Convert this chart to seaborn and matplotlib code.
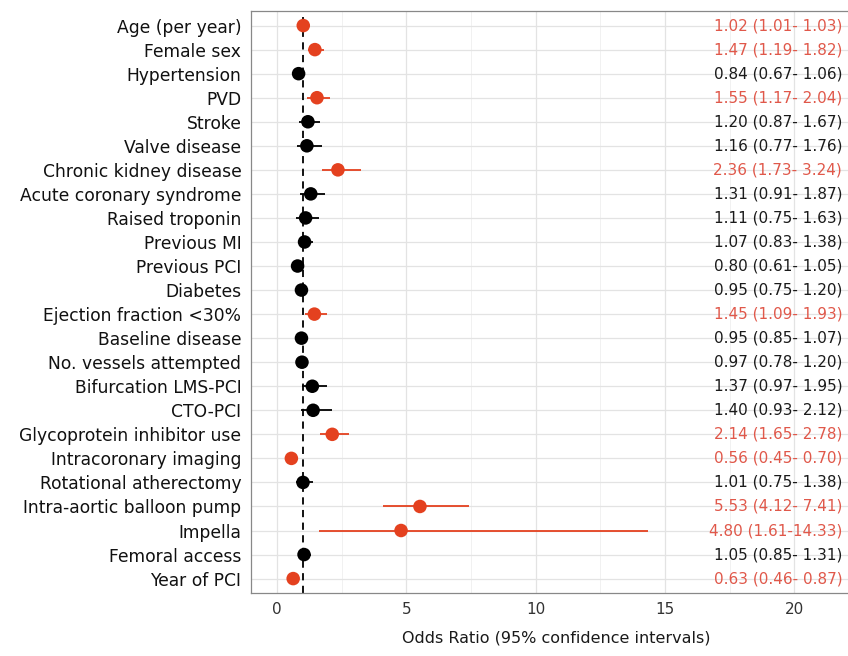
import matplotlib
matplotlib.use("Agg")
import matplotlib.pyplot as plt
import numpy as np
import pandas as pd
import seaborn as sns

# values
variables = [
    "Age (per year)", "Female sex", "Hypertension", "PVD", "Stroke",
    "Valve disease", "Chronic kidney disease", "Acute coronary syndrome",
    "Raised troponin", "Previous MI", "Previous PCI", "Diabetes",
    "Ejection fraction <30%", "Baseline disease", "No. vessels attempted",
    "Bifurcation LMS-PCI", "CTO-PCI", "Glycoprotein inhibitor use",
    "Intracoronary imaging", "Rotational atherectomy",
    "Intra-aortic balloon pump", "Impella", "Femoral access", "Year of PCI",
]
odds_ratio = [1.02, 1.47, 0.84, 1.55, 1.20, 1.16, 2.36, 1.31, 1.11, 1.07,
              0.80, 0.95, 1.45, 0.95, 0.97, 1.37, 1.40, 2.14, 0.56, 1.01,
              5.53, 4.80, 1.05, 0.63]
ci_low = [1.01, 1.19, 0.67, 1.17, 0.87, 0.77, 1.73, 0.91, 0.75, 0.83,
          0.61, 0.75, 1.09, 0.85, 0.78, 0.97, 0.93, 1.65, 0.45, 0.75,
          4.12, 1.61, 0.85, 0.46]
ci_high = [1.03, 1.82, 1.06, 2.04, 1.67, 1.76, 3.24, 1.87, 1.63, 1.38,
           1.05, 1.20, 1.93, 1.07, 1.20, 1.95, 2.12, 2.78, 0.70, 1.38,
           7.41, 14.33, 1.31, 0.87]
x_ticks = [0, 5, 10, 15, 20]

df = pd.DataFrame({"var": variables, "or": odds_ratio,
                   "lo": ci_low, "hi": ci_high})
df["pos"] = np.arange(len(df))
df["sig"] = np.where((df["lo"] > 1) | (df["hi"] < 1), "sig", "ns")
df["label"] = [f"{o:.2f} ({l:.2f}-{h:5.2f})" for o, l, h in zip(df["or"], df["lo"], df["hi"])]

RED = "#e4411f"
TXT_RED = "#e0584a"
palette = {"sig": RED, "ns": "black"}

sns.set_theme(style="whitegrid")
plt.rcParams["font.family"] = ["DejaVu Sans"]

fig = plt.figure(figsize=(8.48, 6.56), dpi=100)
ax = fig.add_axes([0.296, 0.096, 0.72, 0.887])

# CI lines
for _, r in df.iterrows():
    ax.hlines(r["pos"], r["lo"], r["hi"], color=palette[r["sig"]], lw=1.3, zorder=2)

sns.scatterplot(data=df, x="or", y="pos", hue="sig", palette=palette,
                s=95, edgecolor="none", legend=False, ax=ax, zorder=3)

ax.axvline(1, color="black", ls=(0, (4, 3)), lw=1.3, zorder=2.5)

for _, r in df.iterrows():
    ax.text(21.85, r["pos"], r["label"], ha="right", va="center", fontsize=11,
            color=TXT_RED if r["sig"] == "sig" else "#1a1a1a")

ax.set_xlim(-1.0, 22.6)
ax.set_ylim(len(df) - 0.4, -0.6)
ax.set_xticks(x_ticks)
ax.set_xticks([2.5, 7.5, 12.5, 17.5, 22.5], minor=True)
ax.set_yticks(df["pos"])
ax.set_yticklabels(df["var"], fontsize=12.3, color="#111111")
ax.tick_params(axis="x", labelsize=11, colors="#333333", length=3, width=0.8)
ax.tick_params(axis="y", length=3, width=0.8, color="#555555", pad=4)
ax.tick_params(axis="x", which="both", color="#555555")
ax.tick_params(axis="x", which="minor", length=0)
ax.grid(True, which="major", color="#e3e3e3", lw=0.9)
ax.grid(True, which="minor", axis="x", color="#efefef", lw=0.6)
ax.set_xlabel("Odds Ratio (95% confidence intervals)", fontsize=11.5, labelpad=10, color="#1a1a1a")
ax.set_ylabel("")
for s in ax.spines.values():
    s.set_color("#888888")
    s.set_linewidth(0.9)

fig.savefig("out.png", dpi=100)
